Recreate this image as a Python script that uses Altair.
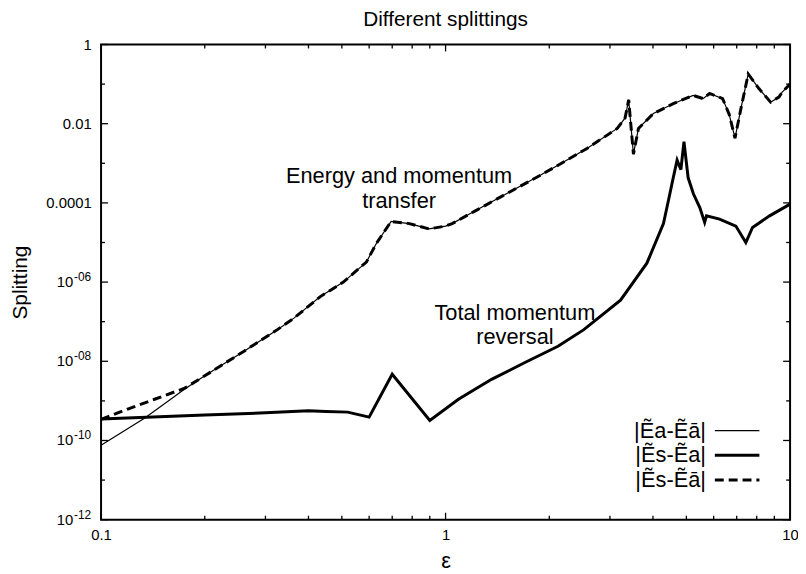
import altair as alt
import pandas as pd

FONT = "Liberation Sans"

# |Ea - Ea-bar| (thin solid)
eps_thin = [0.1, 0.134, 0.175, 0.2, 0.26, 0.325, 0.363, 0.433, 0.505, 0.589, 0.629, 0.695,
            0.785, 0.896, 1.0, 1.045, 1.22, 1.52, 1.9, 2.07, 2.58, 3.15, 3.32, 3.40, 3.51,
            3.63, 4.01, 4.58, 5.23, 5.59, 5.84, 6.37, 6.66, 6.92, 7.2, 7.56, 8.13, 8.78, 9.28,
            9.49, 10.0]
S_thin = [7.6e-11, 3.7e-10, 2.0e-9, 4.3e-9, 1.8e-8, 6.3e-8, 1.23e-7, 4.3e-7, 1.0e-6, 3.2e-6,
          9.3e-6, 3.4e-5, 3.0e-5, 2.2e-5, 2.6e-5, 3.0e-5, 6.3e-5, 1.8e-4, 5.2e-4, 7.9e-4,
          2.4e-3, 7.6e-3, 1.4e-2, 4.0e-2, 1.7e-3, 7.6e-3, 1.8e-2, 3.2e-2, 5.2e-2, 4.3e-2,
          5.8e-2, 4.3e-2, 1.7e-2, 4.3e-3, 2.4e-2, 0.18, 7.6e-2, 3.5e-2, 4.7e-2, 6.3e-2, 0.10]

# |Es - Ea| (thick solid)
eps_thick = [0.1, 0.2, 0.3, 0.4, 0.45, 0.52, 0.6, 0.7, 0.9, 1.09, 1.36, 1.7, 2.12, 2.52,
             3.22, 3.84, 4.29, 4.43, 4.58, 4.70, 4.82, 4.92, 5.06, 5.24, 5.47, 5.65, 5.72,
             6.24, 6.96, 7.44, 7.78, 8.72, 10.0]
S_thick = [3.5e-10, 4.4e-10, 5.0e-10, 5.6e-10, 5.4e-10, 5.2e-10, 3.9e-10, 4.7e-9, 3.2e-10,
           1.1e-9, 3.5e-9, 9.3e-9, 2.4e-8, 6.3e-8, 3.5e-7, 3.0e-6, 3.0e-5, 1.1e-4, 4.3e-4,
           1.2e-3, 6.9e-4, 3.5e-3, 4.3e-4, 1.7e-4, 7.6e-5, 3.2e-5, 4.7e-5, 3.9e-5, 2.6e-5,
           1.0e-5, 2.4e-5, 4.7e-5, 9.3e-5]

# |Es - Ea-bar| (thick dashed)
eps_dash = [0.1, 0.12, 0.143, 0.175, 0.2, 0.26, 0.325, 0.363, 0.433, 0.505, 0.589, 0.629,
            0.695, 0.785, 0.896, 1.0, 1.045, 1.22, 1.52, 1.9, 2.07, 2.58, 3.15, 3.32, 3.40,
            3.51, 3.63, 4.01, 4.58, 5.23, 5.59, 5.84, 6.37, 6.66, 6.92, 7.2, 7.56, 8.13, 8.78,
            9.28, 9.49, 10.0]
S_dash = [3.4e-10, 6.3e-10, 1.1e-9, 2.1e-9, 4.3e-9, 1.8e-8, 6.3e-8, 1.23e-7, 4.3e-7, 1.0e-6,
          3.2e-6, 9.3e-6, 3.4e-5, 3.0e-5, 2.2e-5, 2.6e-5, 3.0e-5, 6.3e-5, 1.8e-4, 5.2e-4,
          7.9e-4, 2.4e-3, 7.6e-3, 1.4e-2, 4.0e-2, 1.7e-3, 7.6e-3, 1.8e-2, 3.2e-2, 5.2e-2,
          4.3e-2, 5.8e-2, 4.3e-2, 1.7e-2, 4.3e-3, 2.4e-2, 0.18, 7.6e-2, 3.5e-2, 4.7e-2,
          6.3e-2, 0.10]

series_names = ["|Ẽa-Ẽā|", "|Ẽs-Ẽa|", "|Ẽs-Ẽā|"]

x_tick_values = [0.1, 1, 10]
x_tick_labels = ["0.1", "1", "10"]
x_minor_values = [0.2, 0.3, 0.4, 0.5, 0.6, 0.7, 0.8, 0.9, 2, 3, 4, 5, 6, 7, 8, 9]
y_tick_values = [1, 1e-2, 1e-4, 1e-6, 1e-8, 1e-10, 1e-12]
y_tick_exps = [0, -2, -4, -6, -8, -10, -12]
y_tick_labels = ["1", "0.01", "0.0001", "", "", "", ""]
y_pow_values = [1e-6, 1e-8, 1e-10, 1e-12]
y_pow_base = ["10", "10", "10", "10"]
y_pow_exp = ["-06", "-08", "-10", "-12"]
y_minor_values = [1e-1, 1e-3, 1e-5, 1e-7, 1e-9, 1e-11]

ann_text = ["Energy and momentum", "transfer", "Total momentum", "reversal"]
ann_eps = [0.733, 0.733, 1.589, 1.589]
ann_S = [4.7e-4, 1.12e-4, 1.68e-7, 4.2e-8]

W, H = 696, 480
TICK_FS = 15
EXP_FS = 12

xs = alt.Scale(type="log", domain=[0.1, 10], nice=False)
ys = alt.Scale(type="log", domain=[1e-12, 1], nice=False)

x_expr = ""
for v, t in zip(x_tick_values, x_tick_labels):
    x_expr += f"abs(datum.value - {v}) < {v}*0.01 ? '{t}' : "
x_expr += "''"
y_expr = ""
for k, t in zip(y_tick_exps, y_tick_labels):
    y_expr += f"round(log(datum.value)/LN10) == {k} ? '{t}' : "
y_expr += "''"

x_axis = alt.Axis(values=x_tick_values, labelExpr=x_expr, ticks=False, domain=False, grid=False,
                  labelFontSize=TICK_FS, labelFont=FONT, labelColor="black", labelPadding=8,
                  title="ε", titleFontSize=22, titleFont=FONT, titleFontWeight="normal",
                  titleColor="black", titlePadding=8, labelFlush=False)
y_axis = alt.Axis(values=y_tick_values, labelExpr=y_expr, ticks=False, domain=False, grid=False,
                  labelFontSize=TICK_FS, labelFont=FONT, labelColor="black", labelPadding=10,
                  title="Splitting", titleFontSize=21, titleFont=FONT, titleFontWeight="normal",
                  titleColor="black", titleX=-81, titleY=H / 2, titleBaseline="middle",
                  titleAlign="center", labelFlush=False)

X = alt.X("eps:Q", scale=xs, axis=x_axis)
Y = alt.Y("S:Q", scale=ys, axis=y_axis)


def df_of(e, s):
    return pd.DataFrame({"eps": e, "S": s})


thin = alt.Chart(df_of(eps_thin, S_thin)).mark_line(color="black", strokeWidth=1.2).encode(x=X, y=Y)
thick = alt.Chart(df_of(eps_thick, S_thick)).mark_line(color="black", strokeWidth=3).encode(x=X, y=Y)
dash = alt.Chart(df_of(eps_dash, S_dash)).mark_line(color="black", strokeWidth=3,
                                                     strokeDash=[9, 5]).encode(x=X, y=Y)

layers = [thin, thick, dash]


def xticks(vals, length):
    d = pd.DataFrame({"eps": vals})
    b = alt.Chart(d).mark_rule(color="black", strokeWidth=1.3).encode(
        x=X, y=alt.value(H), y2=alt.value(H - length))
    t = alt.Chart(d).mark_rule(color="black", strokeWidth=1.3).encode(
        x=X, y=alt.value(0), y2=alt.value(length))
    return [b, t]


def yticks(vals, length):
    d = pd.DataFrame({"S": vals})
    l = alt.Chart(d).mark_rule(color="black", strokeWidth=1.3).encode(
        y=Y, x=alt.value(0), x2=alt.value(length))
    r = alt.Chart(d).mark_rule(color="black", strokeWidth=1.3).encode(
        y=Y, x=alt.value(W), x2=alt.value(W - length))
    return [l, r]


layers += xticks(x_tick_values, 7) + xticks(x_minor_values, 4)
layers += yticks(y_tick_values, 7) + yticks(y_minor_values, 4)

# power-of-ten tick labels with a real superscript
pow_df = pd.DataFrame({"S": y_pow_values, "b": y_pow_base, "e": y_pow_exp})
layers.append(alt.Chart(pow_df).mark_text(font=FONT, fontSize=EXP_FS, color="black", align="right",
                                          baseline="middle", dy=-5).encode(
    y=Y, x=alt.value(-10), text="e:N"))
layers.append(alt.Chart(pow_df).mark_text(font=FONT, fontSize=TICK_FS, color="black", align="right",
                                          baseline="middle").encode(
    y=Y, x=alt.value(-28), text="b:N"))

ann = alt.Chart(pd.DataFrame({"eps": ann_eps, "S": ann_S, "t": ann_text})).mark_text(
    font=FONT, fontSize=22, color="black", align="center", baseline="middle").encode(
    x=X, y=Y, text="t:N")
layers.append(ann)

# legend (label on the left, line sample on the right)
styles = [dict(strokeWidth=1.2), dict(strokeWidth=3), dict(strokeWidth=3, strokeDash=[9, 5])]
for i, (name, st) in enumerate(zip(series_names, styles)):
    yy = 390 + 25 * i
    layers.append(alt.Chart(pd.DataFrame({"t": [name]})).mark_text(
        font=FONT, fontSize=22, color="black", align="right", baseline="middle").encode(
        x=alt.value(611), y=alt.value(yy), text="t:N"))
    layers.append(alt.Chart(pd.DataFrame({"t": [name]})).mark_rule(color="black", **st).encode(
        x=alt.value(620), x2=alt.value(665), y=alt.value(yy)))

chart = alt.layer(*layers).properties(
    width=W, height=H,
    title=alt.TitleParams("Different splittings", font=FONT, fontSize=21, fontWeight="normal",
                          color="black", anchor="middle", offset=8),
    autosize=alt.AutoSizeParams(type="none"),
    padding={"left": 94, "top": 34, "right": 8, "bottom": 52},
).configure(background="white").configure_view(stroke="black", strokeWidth=2)

chart.save("out.html", embed_options={"renderer": "svg", "actions": False})
